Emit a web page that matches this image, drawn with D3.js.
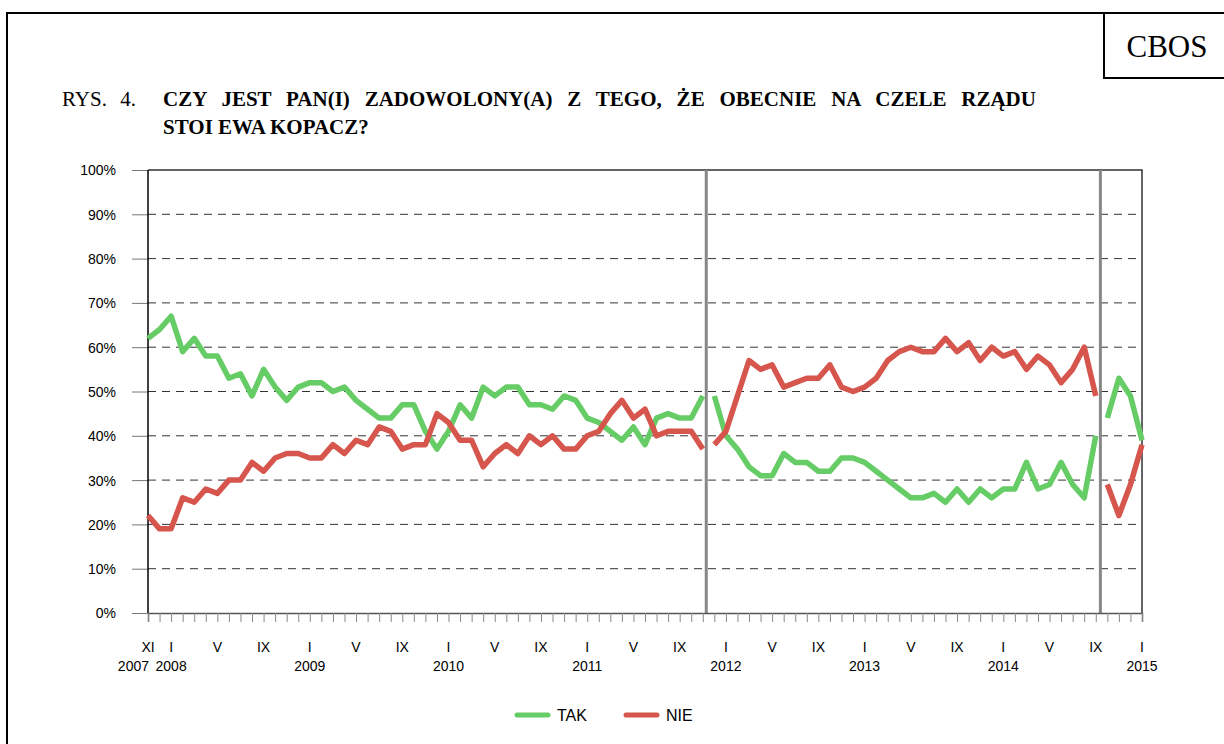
<!DOCTYPE html>
<html>
<head>
<meta charset="utf-8">
<script src="https://cdn.jsdelivr.net/npm/d3@7"></script>
<style>
  body { margin: 0; background: #fff; }
  svg { display: block; }
</style>
</head>
<body>
<div id="chart"></div>
<script>
// monthly surveys, XI 2007 .. I 2015
const startYear = 2007, startMonth = 11, monthCount = 87;

const tak = [
  62, 64, 67, 59, 62, 58, 58, 53, 54, 49, 55, 51, 48, 51, 52, 52, 50, 51, 48, 46,
  44, 44, 47, 47, 41, 37, 41, 47, 44, 51, 49, 51, 51, 47, 47, 46, 49, 48, 44, 43,
  41, 39, 42, 38, 44, 45, 44, 44, 49,
  49, 40, 37, 33, 31, 31, 36, 34, 34, 32, 32, 35, 35, 34, 32, 30, 28, 26, 26, 27,
  25, 28, 25, 28, 26, 28, 28, 34, 28, 29, 34, 29, 26, 40,
  44, 53, 49, 39
];
const nie = [
  22, 19, 19, 26, 25, 28, 27, 30, 30, 34, 32, 35, 36, 36, 35, 35, 38, 36, 39, 38,
  42, 41, 37, 38, 38, 45, 43, 39, 39, 33, 36, 38, 36, 40, 38, 40, 37, 37, 40, 41,
  45, 48, 44, 46, 40, 41, 41, 41, 37,
  38, 41, 49, 57, 55, 56, 51, 52, 53, 53, 56, 51, 50, 51, 53, 57, 59, 60, 59, 59,
  62, 59, 61, 57, 60, 58, 59, 55, 58, 56, 52, 55, 60, 49,
  29, 22, 29, 38
];
// first index of each new segment (change of government)
const segmentStarts = [0, 49, 83, monthCount];
const separators = [48.3, 82.4];

const yTicks = [0, 10, 20, 30, 40, 50, 60, 70, 80, 90, 100];
const romanLabels = { 1: "I", 5: "V", 9: "IX", 11: "XI" };
const labelledMonths = [1, 5, 9];

const titleNo = "RYS. 4.";
const titleLines = ["CZY JEST PAN(I) ZADOWOLONY(A) Z TEGO, ŻE OBECNIE NA CZELE RZĄDU", "STOI EWA KOPACZ?"];
const series = [
  { name: "TAK", values: tak, color: "#66cc66" },
  { name: "NIE", values: nie, color: "#d6554c" }
];

const W = 1224, H = 744;
const margin = { top: 170, left: 148, right: W - 1142, bottom: H - 613 };
const width = W - margin.left - margin.right;
const height = H - margin.top - margin.bottom;

const months = d3.range(monthCount).map(i => {
  const m0 = startMonth - 1 + i;
  return { i, year: startYear + Math.floor(m0 / 12), month: (m0 % 12) + 1 };
});

const svg = d3.select("#chart").append("svg")
  .attr("width", W).attr("height", H)
  .style("font-family", "Arial, 'Liberation Sans', sans-serif");

const serif = "'Liberation Serif', 'Times New Roman', serif";

// outer frame
svg.append("path")
  .attr("d", `M7,${H} V13 H${W}`)
  .attr("fill", "none").attr("stroke", "#000").attr("stroke-width", 2);
svg.append("rect")
  .attr("x", 1104).attr("y", 13).attr("width", W - 1104 + 2).attr("height", 65)
  .attr("fill", "#fff").attr("stroke", "#000").attr("stroke-width", 2);
svg.append("text")
  .attr("x", 1167).attr("y", 57).attr("text-anchor", "middle")
  .style("font-family", serif)
  .style("font-size", "31px")
  .text("CBOS");

// title (first line is justified in the original, hence the word spacing)
svg.append("text")
  .attr("x", 62).attr("y", 106)
  .style("font-family", serif).style("font-size", "21px")
  .style("word-spacing", "8px")
  .text(titleNo);
svg.selectAll(".title").data(titleLines).enter().append("text")
  .attr("class", "title")
  .attr("x", 163).attr("y", (d, i) => 106 + i * 28)
  .style("font-family", serif).style("font-size", "21px").style("font-weight", "bold")
  .style("word-spacing", (d, i) => i === 0 ? "9.6px" : "0px")
  .text(d => d);

const g = svg.append("g").attr("transform", `translate(${margin.left},${margin.top})`);

const x = d3.scaleLinear().domain([0, monthCount - 1]).range([0, width]);
const y = d3.scaleLinear().domain([0, 100]).range([height, 0]);

// gridlines
g.selectAll(".grid").data(yTicks.filter(t => t > 0 && t < 100)).enter().append("line")
  .attr("x1", 0).attr("x2", width)
  .attr("y1", d => y(d)).attr("y2", d => y(d))
  .attr("stroke", "#333").attr("stroke-width", 1).attr("stroke-dasharray", "8,6");

// plot frame top/right
g.append("path")
  .attr("d", `M0,${y(100)} H${width} V${height}`)
  .attr("fill", "none").attr("stroke", "#333").attr("stroke-width", 1.5);

// y axis
const yAxis = d3.axisLeft(y).tickValues(yTicks).tickSize(16).tickFormat(d => d + "%");
g.append("g").call(yAxis)
  .call(s => s.select(".domain").remove())
  .call(s => s.selectAll(".tick line").attr("stroke", "#777"))
  .call(s => s.selectAll("text").attr("x", -32).attr("dy", "0.35em")
    .style("font-size", "14px").style("font-family", "Arial, 'Liberation Sans', sans-serif").attr("fill", "#000"));
g.append("line")
  .attr("x1", 0).attr("x2", 0).attr("y1", 0).attr("y2", height)
  .attr("stroke", "#000").attr("stroke-width", 1.5);

// separators between governments
g.selectAll(".sep").data(separators).enter().append("line")
  .attr("x1", d => x(d)).attr("x2", d => x(d))
  .attr("y1", 0).attr("y2", height)
  .attr("stroke", "#888").attr("stroke-width", 3);

// x axis
const xAxis = d3.axisBottom(x).tickValues(months.map(m => m.i)).tickSize(9).tickFormat("");
g.append("g").attr("transform", `translate(0,${height})`).call(xAxis)
  .call(s => s.select(".domain").attr("stroke", "#555").attr("stroke-width", 1.5))
  .call(s => s.selectAll(".tick line").attr("stroke", "#888"));

const roman = months.filter(m => labelledMonths.includes(m.month) || m.i === 0);
g.selectAll(".mlabel").data(roman).enter().append("text")
  .attr("x", d => x(d.i)).attr("y", height + 39)
  .attr("text-anchor", "middle")
  .style("font-size", "14px")
  .text(d => romanLabels[d.month]);

const yearLabels = months.filter(m => m.month === 1 || m.i === 0);
g.selectAll(".ylabel").data(yearLabels).enter().append("text")
  .attr("x", d => d.i === 0 ? x(d.i) + 1 : x(d.i))
  .attr("y", height + 58)
  .attr("text-anchor", d => d.i === 0 ? "end" : "middle")
  .style("font-size", "14px")
  .text(d => d.year);

// lines, one path per segment
const line = d3.line().x(d => x(d[0])).y(d => y(d[1]));
series.forEach(s => {
  for (let k = 0; k < segmentStarts.length - 1; k++) {
    const pts = d3.range(segmentStarts[k], segmentStarts[k + 1]).map(i => [i, s.values[i]]);
    g.append("path")
      .attr("d", line(pts))
      .attr("fill", "none")
      .attr("stroke", s.color)
      .attr("stroke-width", 5.5)
      .attr("stroke-linejoin", "round");
  }
});

// legend
const legend = svg.append("g").attr("transform", "translate(517,715)");
const item = legend.selectAll(".item").data(series).enter().append("g")
  .attr("transform", (d, i) => `translate(${i * 109},0)`);
item.append("line")
  .attr("x1", 0).attr("x2", 31).attr("y1", 0).attr("y2", 0)
  .attr("stroke", d => d.color).attr("stroke-width", 5).attr("stroke-linecap", "round");
item.append("text")
  .attr("x", 40).attr("y", 6)
  .style("font-size", "16px")
  .text(d => d.name);
</script>
</body>
</html>
